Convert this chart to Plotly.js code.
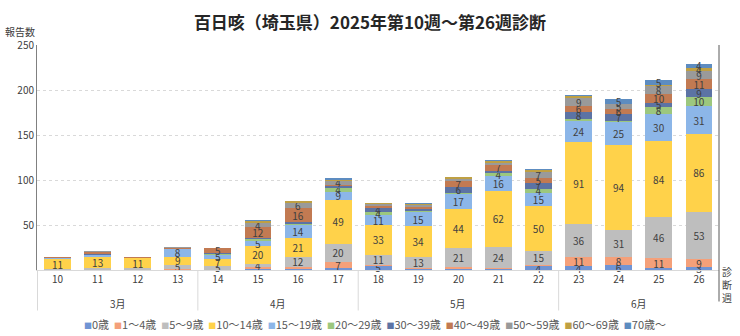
<!DOCTYPE html>
<html>
<head>
<meta charset="utf-8">
<script src="https://cdn.plot.ly/plotly-3.0.1.min.js"></script>
<style>html,body{margin:0;padding:0;background:#fff}#chart{width:740px;height:336px}</style>
</head>
<body>
<div id="chart"></div>
<script>
// ---- data ----
const weeks = ['10','11','12','13','14','15','16','17','18','19','20','21','22','23','24','25','26'];
const months = ['3月','4月','5月','6月'];
const monthWeekCounts = [4, 4, 5, 4];
const ageGroups = ['0歳','1～4歳','5～9歳','10～14歳','15～19歳','20～29歳','30～39歳','40～49歳','50～59歳','60～69歳','70歳～'];

const age0     = [0, 0, 0, 0, 0, 1, 1, 2, 5, 1, 1, 1, 4, 4, 6, 2, 3];
const age1_4   = [0, 0, 0, 1, 0, 2, 2, 7, 1, 1, 2, 1, 2,11, 8,11, 9];
const age5_9   = [1, 2, 2, 5, 5, 4,12,20,11,13,21,24,15,36,31,46,53];
const age10_14 = [11,13,11, 9, 7,20,21,49,33,34,44,62,50,91,94,84,86];
const age15_19 = [1, 2, 0, 8, 5, 5,14, 9,11,15,17,16,15,24,25,30,31];
const age20_29 = [0, 0, 0, 0, 1, 2, 1, 4, 4, 2, 1, 4, 4, 2, 2, 8,10];
const age30_39 = [0, 1, 0, 0, 1, 2, 2, 2, 4, 2, 6, 2, 7, 8, 7, 5, 9];
const age40_49 = [1, 2, 1, 2, 5,12,16, 2, 2, 2, 7, 7, 5, 6, 6,10,11];
const age50_59 = [0, 1, 0, 1, 1, 4, 6, 4, 2, 2, 2, 2, 7, 9, 5, 8, 9];
const age60_69 = [0, 0, 0, 0, 0, 2, 2, 1, 1, 1, 2, 2, 2, 2, 1, 2, 4];
const age70up  = [0, 0, 0, 0, 0, 2, 0, 2, 1, 2, 0, 1, 1, 2, 5, 5, 4];

const seriesValues = [age0, age1_4, age5_9, age10_14, age15_19, age20_29, age30_39, age40_49, age50_59, age60_69, age70up];
const colors = ['#7094D4','#F4A07A','#BEBEBE','#FFD24A','#8CB6E8','#9CC77E','#5C73A4','#C27A52','#9A9A9A','#BFA043','#5D8CC0'];

const FONT = '"Noto Sans CJK JP", "Noto Sans", sans-serif';
const TXT = '#404040';

const traces = ageGroups.map((name, i) => ({
  type: 'bar',
  name: name,
  x: weeks,
  y: seriesValues[i],
  marker: {color: colors[i], line: {width: 0}},
  text: seriesValues[i].map(v => v >= 3 ? String(v) : ''),
  textposition: 'inside',
  insidetextanchor: 'middle',
  textangle: 0,
  constraintext: 'none',
  textfont: {family: FONT, size: 10, color: TXT},
  cliponaxis: false,
  hoverinfo: 'skip'
}));

// month group dividers and labels
const shapes = [];
const annotations = [];
let start = 0;
months.forEach((m, i) => {
  const n = monthWeekCounts[i];
  shapes.push({type: 'line', xref: 'x', yref: 'paper', x0: start - 0.5, x1: start - 0.5, y0: 0, y1: -0.18,
               line: {color: '#D9D9D9', width: 1}});
  annotations.push({xref: 'x', yref: 'paper', x: start + (n - 1) / 2, y: -0.147, text: m, showarrow: false,
                    xanchor: 'center', yanchor: 'middle', font: {family: FONT, size: 10, color: TXT}});
  start += n;
});
shapes.push({type: 'line', xref: 'paper', yref: 'paper', x0: 1, x1: 1, y0: -0.14, y1: 1,
             line: {color: '#595959', width: 1}});

annotations.push({xref: 'paper', yref: 'paper', x: -0.025, y: 1.058, text: '報告数', showarrow: false,
                  xanchor: 'center', yanchor: 'middle', font: {family: FONT, size: 10, color: TXT}});
annotations.push({xref: 'paper', yref: 'paper', x: 1.0117, y: -0.066, text: '診<br>断<br>週', showarrow: false,
                  xanchor: 'center', yanchor: 'middle', font: {family: FONT, size: 10, color: TXT}});

// legend row (single-line, built from series names and colours)
const legendText = ageGroups.map((a, i) =>
  `<span style="color:${colors[i]};font-size:8px">■</span>${a}`).join('\u00a0\u00a0');
annotations.push({xref: 'paper', yref: 'paper', x: 0.4956, y: -0.24, text: legendText, showarrow: false,
                  xanchor: 'center', yanchor: 'middle', font: {family: FONT, size: 11, color: '#595959'}});

const layout = {
  width: 740, height: 336,
  margin: {l: 37, r: 21, t: 45, b: 66},
  paper_bgcolor: '#FFFFFF', plot_bgcolor: '#FFFFFF',
  font: {family: FONT, size: 10, color: TXT},
  barmode: 'stack', bargap: 0.33,
  showlegend: false,
  uniformtext: {mode: 'show', minsize: 10},
  title: {text: '百日咳（埼玉県）2025年第10週～第26週診断', xref: 'container', x: 0.5, y: 0.93,
          xanchor: 'center', yanchor: 'middle',
          font: {family: FONT, size: 17, color: '#262626', weight: 'bold'}},
  xaxis: {type: 'category', showline: true, linecolor: '#D9D9D9', linewidth: 1, ticks: '',
          showgrid: false, zeroline: false, tickfont: {family: FONT, size: 10, color: TXT}},
  yaxis: {range: [0, 250], tickvals: [50, 100, 150, 200, 250], showgrid: true, gridcolor: '#D9D9D9',
          griddash: 'dot', gridwidth: 1, showline: true, linecolor: '#808080', linewidth: 1,
          zeroline: false, ticks: '', tickfont: {family: FONT, size: 10, color: TXT}},
  shapes: shapes,
  annotations: annotations
};

Plotly.newPlot('chart', traces, layout, {displayModeBar: false, staticPlot: true});
</script>
</body>
</html>
